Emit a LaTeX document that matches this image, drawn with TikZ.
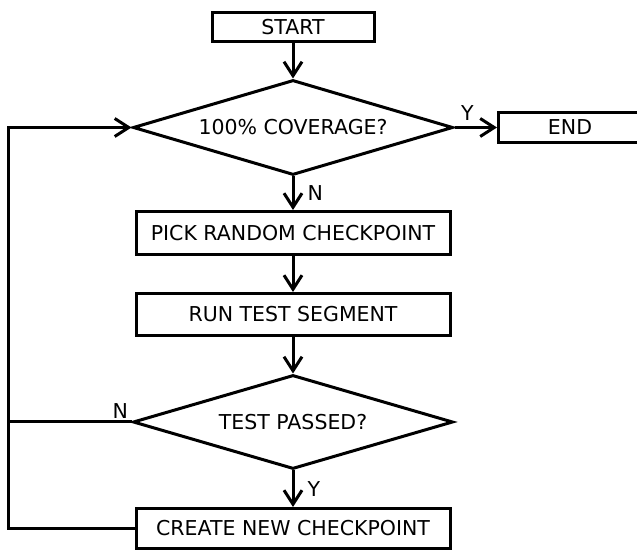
\documentclass[tikz,border=0pt]{standalone}
\usepackage{fontspec}
\setmainfont{DejaVu Sans}
\usepackage{tikz}
\usetikzlibrary{arrows.meta,shapes,positioning}

\begin{document}
\begin{tikzpicture}[x=1pt,y=1pt,font=\fontsize{20.5pt}{24pt}\selectfont]
		\tikzstyle{step_box}=[draw=black, line width=3pt, inner sep=0pt, minimum width=314pt, minimum height=43pt]
		\tikzstyle{term_box}=[step_box, minimum width=162pt, minimum height=29pt]
		\tikzstyle{decision}=[draw=black, line width=3pt, diamond, aspect=3.4, inner sep=0pt, minimum width=320pt, minimum height=95pt]
		\tikzstyle{edge_text}=[draw=none, fill=none, inner sep=2pt]
		\tikzstyle{arrow}=[line width=3pt, >={Straight Barb[length=14pt,width=18pt]}]

		\useasboundingbox (0,0) rectangle (637,551);

		\node [term_box] (start) at (293,523.5) {START};
		\node [decision] (cov) [below=35pt of start] {100\% COVERAGE?};
		\node [term_box, minimum width=143pt, minimum height=30pt] (end) [right=42.5pt of cov] {END};
		\node [step_box] (pick) [below=33.5pt of cov] {PICK RANDOM CHECKPOINT};
		\node [step_box, minimum height=42pt] (run) [below=36pt of pick] {RUN TEST SEGMENT};
		\node [decision, minimum height=94pt] (test) [below=36.5pt of run] {TEST PASSED?};
		\node [step_box, minimum height=40pt] (create) [below=36.5pt of test] {CREATE NEW CHECKPOINT};

		\coordinate (back) at (8,0);

	\path[->] (start) edge [arrow] (cov);
	\path[->] (cov.east) edge [arrow] node [pos=0, edge_text, anchor=south west, xshift=3pt, yshift=3pt] {Y} (end);
	\path[->] (cov) edge [arrow] node [edge_text, right=11pt] {N} (pick);
	\path[->] (pick) edge [arrow] (run);
	\path[->] (run) edge [arrow] (test);
	\path[->] (test) edge [arrow] node [edge_text, right=11pt] {Y} (create);

	\draw[arrow] (test.west) -- node [pos=0, edge_text, anchor=south east] {N} (test.west -| back);
	\draw[arrow,->] (create.west) -- (create.west -| back) |- (cov.west);

	\end{tikzpicture}
\end{document}
